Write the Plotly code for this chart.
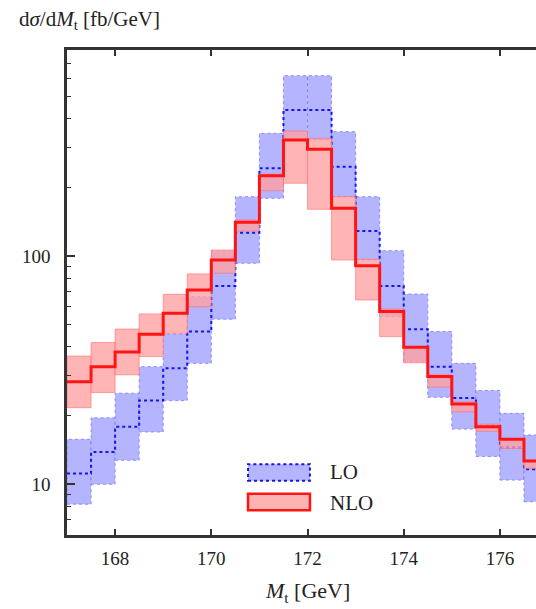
import plotly.graph_objects as go

# ---- data ----
bin_edges = [167.0, 167.5, 168.0, 168.5, 169.0, 169.5, 170.0, 170.5, 171.0, 171.5,
             172.0, 172.5, 173.0, 173.5, 174.0, 174.5, 175.0, 175.5, 176.0, 176.5, 177.0]

lo_central = [11.1, 13.8, 17.8, 23.2, 32.2, 46.6, 73.9, 126.5, 242.5, 437.0,
              437.0, 246.5, 128.7, 73.9, 47.7, 32.7, 23.8, 18.0, 14.5, 11.6]
lo_low = [8.15, 9.97, 12.7, 16.9, 23.2, 33.8, 52.8, 92.9, 179.0, 323.0,
          323.0, 182.0, 96.0, 54.2, 34.4, 24.0, 17.4, 13.2, 10.4, 8.36]
lo_high = [15.7, 19.5, 25.0, 32.7, 45.5, 66.3, 105.0, 182.0, 345.0, 618.0,
           618.0, 351.0, 182.0, 105.5, 68.1, 46.6, 33.8, 25.7, 20.4, 16.4]

nlo_central = [28.1, 32.7, 37.9, 45.4, 56.1, 70.9, 96.0, 140.5, 225.0, 323.0,
               294.0, 162.0, 90.7, 57.0, 39.8, 29.6, 22.4, 17.8, 15.7, 12.6]
nlo_low = [21.6, 25.2, 30.1, 36.2, 45.8, 59.9, 84.0, 128.7, 193.4, 208.4,
           160.2, 96.0, 64.1, 44.3, 34.0, 26.6, 20.7, 17.0, 14.3, 11.7]
nlo_high = [36.4, 41.7, 47.8, 55.7, 67.9, 83.4, 106.2, 143.9, 228.9, 353.0,
            328.3, 182.0, 96.7, 58.5, 40.0, 30.1, 22.9, 18.3, 15.7, 12.7]

x_tick_vals = [168, 170, 172, 174, 176]
x_tick_text = ["168", "170", "172", "174", "176"]
y_tick_vals = [10, 100]
y_tick_text = ["10", "100"]
y_minor_vals = [6, 7, 8, 9, 20, 30, 40, 50, 60, 70, 80, 90, 200, 300, 400, 500, 600, 700]

series_names = ["LO", "NLO"]

# ---- styles ----
FONT = "Liberation Serif"
LO_FILL = "rgb(180,180,255)"
LO_EDGE = "rgba(120,120,255,0.8)"
LO_LINE = "rgb(20,20,235)"
NLO_FILL = "rgba(255,160,160,0.78)"
NLO_EDGE = "rgba(255,110,110,0.6)"
NLO_LINE = "rgb(255,20,20)"
AX = "#333333"

fig = go.Figure()


def add_boxes(low, high, fill, edge, dash):
    for i in range(len(low)):
        x0, x1 = bin_edges[i], bin_edges[i + 1]
        fig.add_trace(go.Scatter(
            x=[x0, x1, x1, x0, x0],
            y=[low[i], low[i], high[i], high[i], low[i]],
            mode="lines", fill="toself", fillcolor=fill,
            line=dict(color=edge, width=1, dash=dash),
            showlegend=False, hoverinfo="skip"))


def step(vals):
    return bin_edges, list(vals) + [vals[-1]]


# LO band + central
add_boxes(lo_low, lo_high, LO_FILL, LO_EDGE, "dot")
sx, sy = step(lo_central)
fig.add_trace(go.Scatter(x=sx, y=sy, mode="lines", line_shape="hv",
                         line=dict(color=LO_LINE, width=2, dash="dot"),
                         showlegend=False, hoverinfo="skip"))

# NLO band + central
add_boxes(nlo_low, nlo_high, NLO_FILL, NLO_EDGE, "solid")
sx, sy = step(nlo_central)
fig.add_trace(go.Scatter(x=sx, y=sy, mode="lines", line_shape="hv",
                         line=dict(color=NLO_LINE, width=3),
                         showlegend=False, hoverinfo="skip"))

# ---- legend drawn as shapes ----
fig.add_shape(type="rect", xref="paper", yref="paper",
              x0=0.386, x1=0.518, y0=0.112, y1=0.146,
              fillcolor=LO_FILL, line=dict(color=LO_LINE, width=2, dash="dot"))
fig.add_shape(type="rect", xref="paper", yref="paper",
              x0=0.386, x1=0.518, y0=0.051, y1=0.085,
              fillcolor="rgb(255,180,180)", line=dict(color=NLO_LINE, width=2.5))
fig.add_annotation(xref="paper", yref="paper", x=0.556, y=0.130, text=series_names[0],
                   showarrow=False, xanchor="left", yanchor="middle",
                   font=dict(family=FONT, size=21, color="#222"))
fig.add_annotation(xref="paper", yref="paper", x=0.556, y=0.066, text=series_names[1],
                   showarrow=False, xanchor="left", yanchor="middle",
                   font=dict(family=FONT, size=21, color="#222"))

# ---- axis titles ----
fig.add_annotation(xref="paper", yref="paper", x=-0.107, y=1.062,
                   text="d<i>σ</i>/d<i>M</i><sub>t</sub> [fb/GeV]",
                   showarrow=False, xanchor="left", yanchor="middle",
                   font=dict(family=FONT, size=21, color="#222"))
fig.add_annotation(xref="paper", yref="paper", x=0.513, y=-0.118,
                   text="<i>M</i><sub>t</sub> [GeV]",
                   showarrow=False, xanchor="center", yanchor="middle",
                   font=dict(family=FONT, size=22, color="#222"))

fig.update_layout(
    width=536, height=609,
    margin=dict(l=67, r=0, t=50, b=74),
    paper_bgcolor="white", plot_bgcolor="white",
    showlegend=False,
    font=dict(family=FONT, size=19, color="#222"),
    xaxis=dict(range=[167, 176.75], tickmode="array", tickvals=x_tick_vals,
               ticktext=x_tick_text, ticks="inside", ticklen=6, tickwidth=1.5,
               tickcolor=AX, showline=True, linewidth=2.5, linecolor=AX,
               mirror="ticks", showgrid=False, zeroline=False,
               ticklabelstandoff=4),
    yaxis=dict(type="log", range=[0.776, 2.9035], tickmode="array",
               tickvals=y_tick_vals, ticktext=y_tick_text, ticks="inside",
               ticklen=8, tickwidth=1.5, tickcolor=AX, showline=True,
               linewidth=2.5, linecolor=AX, mirror=False, showgrid=False,
               zeroline=False, ticklabelstandoff=10,
               minor=dict(tickmode="array", tickvals=y_minor_vals, ticks="inside",
                          ticklen=4, tickwidth=1.2, tickcolor=AX, showgrid=False)),
)

fig.write_html("out.html")
